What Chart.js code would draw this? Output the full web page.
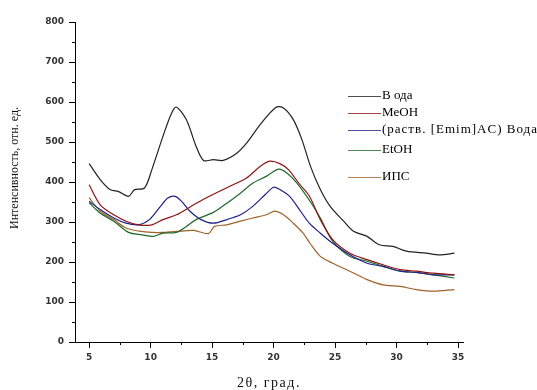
<!DOCTYPE html>
<html>
<head>
<meta charset="utf-8">
<script src="https://cdn.jsdelivr.net/npm/chart.js@4/dist/chart.umd.min.js"></script>
<style>
  body { margin:0; background:#fff; }
  canvas { display:block; }
</style>
</head>
<body>
<canvas id="c-xrd" width="537" height="390"></canvas>
<script>
// Data
const labels = ['В ода', 'MeOH', '(раств. [Emim]AC) Вода', 'EtOH', 'ИПС'];
const colors = ['#222222', '#8b1515', '#20208a', '#1f6a2a', '#a0622a'];

const waterX = [5, 5.9, 6.7, 7.4, 8.2, 8.7, 9.5, 10.1, 11.0, 11.7, 12.1, 12.9, 13.7, 14.3, 15.1, 15.9, 17.0, 17.8, 19.0, 20.2, 20.8, 21.6, 22.3, 23.0, 23.8, 24.6, 25.7, 26.5, 27.6, 28.6, 29.7, 30.8, 32.4, 33.5, 34.7];
const waterY = [446, 406, 381, 376, 364, 381, 385, 431, 514, 572, 587, 556, 489, 454, 456, 454, 472, 497, 547, 587, 585, 556, 506, 439, 381, 339, 302, 277, 264, 243, 239, 227, 222, 218, 222];

const meohX = [5, 5.9, 7.0, 8.0, 9.0, 10.1, 11.0, 12.1, 13.5, 14.5, 15.6, 16.7, 17.8, 18.9, 19.7, 20.5, 21.2, 22.1, 22.9, 23.8, 24.8, 26.2, 27.6, 28.9, 30.3, 31.6, 33.0, 34.7];
const meohY = [393, 343, 318, 302, 293, 293, 306, 318, 343, 360, 377, 393, 410, 439, 452, 446, 431, 395, 365, 306, 256, 222, 206, 193, 181, 177, 172, 168];

const emimX = [5, 5.9, 7.0, 8.0, 9.0, 9.9, 10.8, 11.4, 12.0, 12.5, 13.2, 14.1, 15.1, 16.2, 17.3, 18.3, 19.3, 20.0, 20.5, 21.3, 22.1, 22.9, 23.8, 24.8, 26.2, 27.6, 28.9, 30.3, 31.6, 33.0, 34.7];
const emimY = [352, 331, 310, 297, 293, 306, 339, 360, 364, 352, 327, 306, 297, 306, 318, 339, 368, 387, 381, 364, 331, 297, 272, 247, 218, 197, 189, 177, 174, 168, 168];

const etohX = [5, 5.9, 7.0, 8.2, 9.3, 10.2, 11.0, 12.1, 12.9, 13.7, 15.1, 16.2, 17.3, 18.3, 19.4, 20.4, 21.1, 21.9, 23.0, 23.8, 24.8, 26.2, 27.6, 28.9, 30.3, 31.6, 33.0, 34.7];
const etohY = [348, 322, 302, 274, 268, 264, 272, 274, 289, 306, 324, 347, 372, 397, 414, 432, 422, 397, 350, 310, 252, 214, 202, 189, 177, 174, 168, 160];

const ipsX = [5, 5.9, 7.0, 8.0, 9.1, 10.1, 11.0, 12.4, 13.5, 14.7, 15.2, 16.2, 17.3, 18.3, 19.4, 20.1, 20.8, 21.6, 22.4, 23.0, 23.8, 24.8, 26.2, 27.6, 28.9, 30.3, 31.6, 33.0, 34.7];
const ipsY = [361, 327, 306, 285, 277, 274, 274, 277, 279, 271, 289, 293, 302, 310, 318, 327, 318, 297, 272, 245, 214, 197, 177, 156, 143, 139, 131, 127, 131];

const xTicks = [5, 10, 15, 20, 25, 30, 35];
const xMinor = [7.5, 12.5, 17.5, 22.5, 27.5, 32.5];
const yTicks = [0, 100, 200, 300, 400, 500, 600, 700, 800];
const yMinor = [50, 150, 250, 350, 450, 550, 650, 750];

const xTitle = '2θ, град.';
const yTitle = 'Интенсивность, отн. ед.';

const series = [[waterX, waterY], [meohX, meohY], [emimX, emimY], [etohX, etohY], [ipsX, ipsY]];

const tickFont = { family: 'DejaVu Sans', size: 9, weight: 'bold' };

// minor ticks, axis titles, legend
const extras = {
  id: 'extras',
  afterDraw(chart) {
    const { ctx, chartArea: a, scales: { x, y } } = chart;
    ctx.save();
    ctx.strokeStyle = '#000';
    ctx.lineWidth = 1;
    ctx.beginPath();
    xMinor.forEach(v => { const px = Math.round(x.getPixelForValue(v)) + 0.5; ctx.moveTo(px, a.bottom); ctx.lineTo(px, a.bottom + 3); });
    yMinor.forEach(v => { const py = Math.round(y.getPixelForValue(v)) + 0.5; ctx.moveTo(a.left - 3, py); ctx.lineTo(a.left, py); });
    ctx.stroke();

    ctx.fillStyle = '#111';
    ctx.font = '14px "Liberation Serif"';
    ctx.textAlign = 'center';
    ctx.textBaseline = 'middle';
    ctx.letterSpacing = '1.5px';
    ctx.fillText(xTitle, (a.left + a.right) / 2, 383);
    ctx.letterSpacing = '0px';

    ctx.save();
    ctx.translate(15, 168);
    ctx.rotate(-Math.PI / 2);
    ctx.font = '12px "Liberation Serif"';
    ctx.fillText(yTitle, 0, 0);
    ctx.restore();

    // legend
    const rows = [96, 113, 130, 150, 177];
    ctx.font = '13px "Liberation Serif"';
    ctx.textAlign = 'left';
    labels.forEach((lbl, i) => {
      ctx.strokeStyle = colors[i];
      ctx.globalAlpha = 0.8;
      ctx.beginPath();
      ctx.moveTo(348, rows[i] + 0.5);
      ctx.lineTo(381, rows[i] + 0.5);
      ctx.stroke();
      ctx.globalAlpha = 1;
      ctx.fillStyle = '#000';
      ctx.letterSpacing = i === 2 ? '1px' : '0px';
      ctx.fillText(lbl, 382, rows[i]);
    });
    ctx.restore();
  }
};

new Chart(document.getElementById('c-xrd'), {
  type: 'line',
  data: {
    datasets: series.map(([xs, ys], i) => ({
      label: labels[i],
      data: xs.map((v, j) => ({ x: v, y: ys[j] })),
      borderColor: colors[i],
      borderWidth: 1.2,
      pointRadius: 0,
      tension: 0.3,
      fill: false,
    }))
  },
  options: {
    responsive: false,
    animation: false,
    layout: { padding: { top: 22, right: 74, bottom: 0, left: 0 } },
    plugins: { legend: { display: false }, tooltip: { enabled: false } },
    scales: {
      x: {
        type: 'linear', min: 3.85, max: 35.4,
        afterBuildTicks: s => { s.ticks = xTicks.map(v => ({ value: v })); },
        afterFit: s => { s.height = 48; },
        grid: { drawOnChartArea: false, drawTicks: true, tickLength: 6, tickColor: '#000' },
        border: { display: true, color: '#000', width: 1 },
        ticks: { font: tickFont, color: '#333', padding: 4, maxRotation: 0 }
      },
      y: {
        type: 'linear', min: 0, max: 800,
        afterBuildTicks: s => { s.ticks = yTicks.map(v => ({ value: v })); },
        afterFit: s => { s.width = 75; },
        grid: { drawOnChartArea: false, drawTicks: true, tickLength: 6, tickColor: '#000' },
        border: { display: true, color: '#000', width: 1 },
        ticks: { font: tickFont, color: '#333', padding: 5 }
      }
    }
  },
  plugins: [extras]
});
</script>
</body>
</html>
